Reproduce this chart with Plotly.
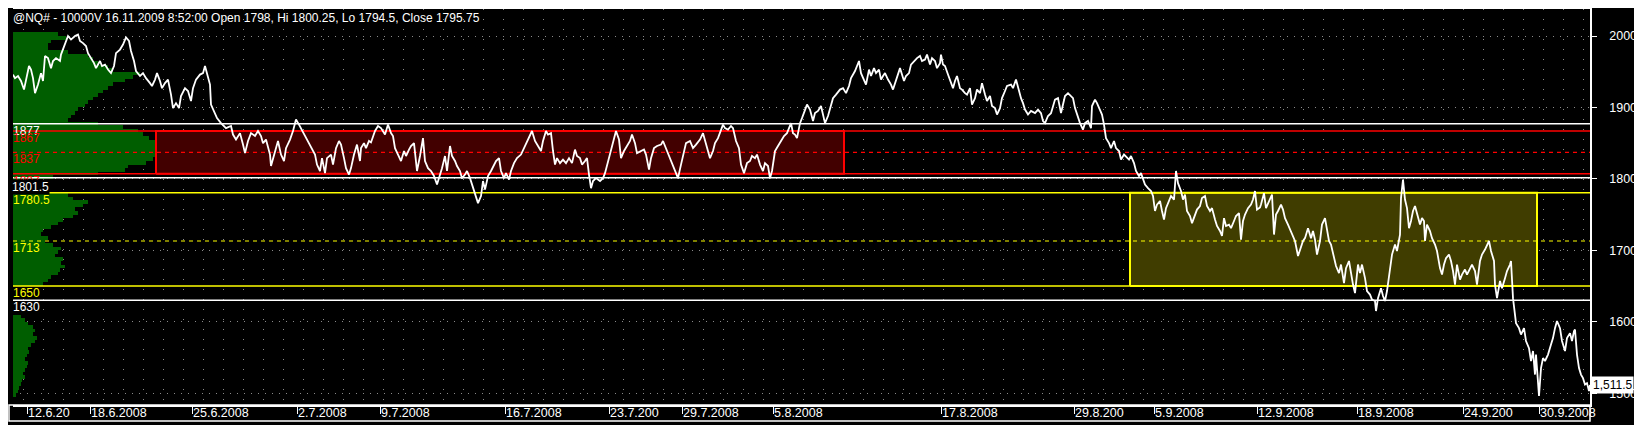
import plotly.graph_objects as go

# ---------------- data ----------------
title_text = "@NQ# - 10000V 16.11.2009 8:52:00 Open 1798, Hi 1800.25, Lo 1794.5, Close 1795.75"

# price trace: bar index (10000-volume bars) and price
bar_idx = [
    0, 2, 5, 8, 11, 13, 16, 18, 20, 22, 25, 28, 30, 32, 35, 38, 40, 43, 47, 48,
    50, 52, 55, 58, 62, 65, 67, 70, 73, 75, 78, 81, 83, 87, 89, 92, 95, 98, 101, 103,
    107, 110, 113, 116, 118, 121, 123, 127, 130, 133, 137, 139, 142, 144, 147, 149, 152, 155, 158, 160,
    163, 166, 168, 172, 175, 178, 180, 183, 187, 190, 192, 194, 197, 198, 201, 204, 208, 213, 218, 220,
    223, 227, 230, 232, 235, 238, 242, 245, 248, 250, 253, 257, 258, 262, 265,
    268, 271, 273, 277, 280, 283, 286, 288, 291, 294, 297, 299, 302, 304, 307, 309, 312, 314, 318, 320,
    323, 326, 328, 331, 333, 336, 338, 341, 344, 347, 348, 351, 353, 356, 358, 362, 365, 368, 372, 375,
    378, 380, 382, 385, 388, 391, 393, 396, 398, 401, 402, 404, 407, 410, 412, 415, 418, 421, 424, 427,
    429, 432, 434, 437, 439, 442, 444, 447, 449, 452, 454, 457, 460, 462, 465, 468, 470, 472, 475, 478,
    481, 483, 486, 488, 491, 493, 496, 498, 501, 504, 508, 511, 513, 517, 519, 522, 524, 528, 530, 533,
    535, 538, 540, 542, 544, 547, 550, 553, 556, 559, 562, 564, 567, 569, 572, 574, 576, 578, 580, 583,
    587, 590, 592, 595, 598, 600, 603, 606, 608, 611, 614, 617, 619, 622, 624, 628, 631, 633, 636, 638,
    641, 644, 648, 650, 653, 657, 660, 663, 665, 668, 670, 673, 677, 680, 683, 687, 690, 693, 697, 700,
    702, 705, 708, 710, 712, 715, 718, 720, 723, 726, 728, 731, 734, 737, 739, 742, 744, 747, 750, 752,
    755, 757, 759, 762, 765, 768, 771, 774, 778, 780, 782, 784, 787, 789, 792, 794, 797, 800, 802, 805,
    808, 810, 812, 815, 818, 820, 823, 827, 830, 833, 836, 838, 842, 844, 846, 848, 851, 853, 856, 858,
    861, 863, 866, 868, 870, 872, 875, 878, 880, 882, 885, 887, 889, 891, 893, 896, 898, 901, 904, 907,
    909, 912, 914, 917, 919, 922, 924, 927, 928, 930, 932, 935, 938, 940, 942, 944, 947, 949, 952, 954,
    957, 959, 962, 964, 967, 969, 972, 974, 977, 979, 982, 984, 987, 989, 992, 994, 998, 1000, 1003, 1005,
    1008, 1010, 1012, 1015, 1018, 1022, 1025, 1028, 1030, 1032, 1035, 1038, 1040, 1042, 1045, 1048, 1050, 1052, 1055, 1058,
    1060, 1062, 1064, 1067, 1070, 1072, 1075,
    1078, 1079, 1082, 1084, 1087, 1089, 1091, 1093, 1096, 1098, 1101, 1103, 1106, 1108, 1111, 1113, 1116, 1118, 1121, 1123,
    1126, 1128, 1130, 1132, 1135, 1138, 1140, 1142, 1144, 1147, 1149, 1151, 1153, 1156, 1158, 1161, 1163, 1165, 1168, 1170,
    1172, 1174, 1177, 1179, 1182, 1184, 1187, 1189, 1192, 1194, 1197, 1199, 1202, 1204, 1207, 1209, 1211, 1213, 1216, 1218,
    1221, 1223, 1226, 1228, 1230, 1232, 1235, 1238, 1240, 1242, 1244, 1247, 1248, 1251, 1253, 1255, 1258, 1259, 1261, 1263,
    1265, 1268, 1270, 1272, 1275, 1278, 1280, 1282, 1285, 1288, 1290, 1292, 1295, 1298, 1300, 1302, 1304, 1307, 1309, 1312,
    1314, 1316, 1318, 1321, 1323, 1326, 1328, 1331, 1333, 1336, 1338, 1340, 1342, 1344,
    1345, 1347, 1349, 1352, 1354, 1357, 1359, 1362, 1363, 1365, 1368, 1370, 1372, 1374, 1377, 1379, 1382, 1384, 1387, 1388,
    1390, 1392, 1394, 1396, 1398, 1400, 1402, 1404, 1407, 1409, 1411, 1412, 1414, 1417, 1419, 1422, 1424, 1427, 1429, 1431,
    1433, 1436, 1438, 1440, 1442, 1444, 1447, 1449, 1452, 1454, 1457, 1459, 1462, 1464, 1467, 1469, 1472, 1474, 1476, 1478,
    1481, 1482, 1484, 1487, 1489, 1492, 1494, 1497, 1498, 1500, 1502, 1503, 1506, 1508, 1511, 1513, 1516, 1518, 1520, 1522,
    1523, 1526, 1528, 1530, 1532, 1535, 1538, 1540, 1542, 1544, 1547, 1549, 1552, 1554, 1557, 1559, 1561, 1562, 1564, 1566,
    1568, 1570, 1572, 1574, 1576, 1577,
]
close = [
    1946, 1941, 1944, 1937, 1925, 1939, 1958, 1953, 1941, 1920, 1932, 1948, 1937, 1972, 1969, 1955, 1965, 1969, 1965, 1974,
    1981, 1988, 2000, 1995, 2000, 2002, 1993, 1990, 1986, 1976, 1969, 1962, 1955, 1965, 1958, 1960, 1953, 1948, 1958, 1976,
    1981, 1988, 1998, 1993, 1979, 1965, 1951, 1944, 1948, 1941, 1934, 1930, 1939, 1948, 1937, 1927, 1934, 1939, 1918, 1899,
    1906, 1899, 1916, 1927, 1923, 1909, 1927, 1939, 1946, 1948, 1958, 1946, 1932, 1904, 1895, 1885, 1878, 1871, 1874, 1862,
    1855, 1864, 1848, 1836, 1853, 1864, 1860, 1867, 1860, 1850, 1855, 1834, 1818, 1839, 1853,
    1834, 1825, 1843, 1855, 1867, 1883, 1876, 1871, 1862, 1855, 1848, 1843, 1834, 1820, 1811, 1829, 1808, 1829, 1834, 1820,
    1843, 1853, 1848, 1829, 1815, 1806, 1815, 1834, 1848, 1825, 1843, 1850, 1843, 1853, 1851, 1867, 1874, 1871, 1862, 1876,
    1864, 1860, 1843, 1834, 1825, 1839, 1832, 1841, 1846, 1850, 1839, 1811, 1832, 1857, 1825, 1815, 1811, 1804, 1792, 1804,
    1815, 1832, 1811, 1846, 1832, 1825, 1818, 1811, 1801, 1806, 1811, 1801, 1787, 1780, 1766, 1776, 1797, 1785, 1804, 1811,
    1820, 1825, 1829, 1811, 1801, 1808, 1799, 1811, 1822, 1829, 1834, 1843, 1848, 1862, 1867, 1853, 1848, 1839, 1853, 1867,
    1862, 1864, 1839, 1820, 1829, 1822, 1827, 1822, 1829, 1822, 1841, 1832, 1829, 1820, 1825, 1829, 1806, 1787, 1797, 1801,
    1797, 1801, 1808, 1825, 1839, 1850, 1867, 1855, 1829, 1839, 1846, 1853, 1862, 1850, 1836, 1839, 1841, 1834, 1813, 1829,
    1843, 1846, 1848, 1853, 1843, 1829, 1818, 1808, 1801, 1820, 1834, 1850, 1853, 1843, 1848, 1855, 1864, 1850, 1829, 1839,
    1850, 1857, 1867, 1876, 1871, 1869, 1874, 1871, 1853, 1843, 1820, 1808, 1822, 1825, 1832, 1829, 1834, 1820, 1811, 1822,
    1818, 1801, 1811, 1839, 1846, 1853, 1860, 1864, 1878, 1864, 1862, 1857, 1878, 1885, 1895, 1904, 1897, 1881, 1892, 1895,
    1902, 1890, 1878, 1888, 1904, 1913, 1918, 1925, 1927, 1920, 1930, 1941, 1951, 1958, 1965, 1948, 1937, 1932, 1953, 1944,
    1955, 1948, 1953, 1939, 1944, 1948, 1939, 1932, 1925, 1934, 1946, 1955, 1946, 1937, 1944, 1948, 1960, 1965, 1969, 1972,
    1965, 1967, 1974, 1960, 1969, 1965, 1955, 1962, 1974, 1960, 1958, 1946, 1934, 1927, 1937, 1944, 1927, 1925, 1920, 1918,
    1927, 1904, 1913, 1925, 1920, 1934, 1918, 1909, 1916, 1902, 1899, 1890, 1899, 1913, 1923, 1930, 1932, 1927, 1939, 1927,
    1913, 1906, 1897, 1890, 1895, 1892, 1897, 1892, 1881, 1878, 1888, 1892, 1902, 1911, 1913, 1892, 1904, 1916, 1920, 1916,
    1913, 1899, 1890, 1878, 1869, 1878, 1881,
    1871, 1902, 1911, 1906, 1895, 1890, 1876, 1857, 1850, 1843, 1853, 1843, 1839, 1827, 1834, 1831, 1827, 1832, 1822, 1811,
    1804, 1808, 1801, 1792, 1787, 1783, 1776, 1755, 1764, 1769, 1755, 1743, 1759, 1769, 1776, 1771, 1811, 1794, 1783, 1771,
    1778, 1755, 1748, 1738, 1750, 1757, 1762, 1773, 1776, 1762, 1755, 1759, 1743, 1734, 1727, 1720, 1745, 1734, 1736, 1731,
    1741, 1748, 1752, 1715, 1741, 1750, 1759, 1764, 1771, 1783, 1757, 1760, 1764, 1780, 1759, 1766, 1776, 1778, 1722, 1750,
    1755, 1764, 1757, 1745, 1736, 1727, 1720, 1713, 1692, 1703, 1713, 1717, 1731, 1717, 1727, 1715, 1694, 1713, 1736, 1745,
    1729, 1713, 1708, 1692, 1678, 1668, 1680, 1654, 1675, 1685, 1666, 1652, 1640, 1668,
    1680, 1668, 1680, 1661, 1643, 1638, 1631, 1629, 1615, 1633, 1647, 1636, 1629, 1643, 1671, 1694, 1708, 1699, 1722, 1773,
    1799, 1771, 1759, 1731, 1741, 1755, 1762, 1750, 1736, 1745, 1741, 1713, 1736, 1727, 1717, 1708, 1699, 1675, 1666, 1680,
    1689, 1694, 1685, 1671, 1652, 1680, 1659, 1666, 1673, 1666, 1675, 1680, 1671, 1652, 1685, 1694, 1701, 1708, 1713, 1699,
    1685, 1652, 1633, 1657, 1647, 1661, 1671, 1680, 1685, 1633, 1610, 1598, 1591, 1582, 1591, 1573, 1563, 1545, 1559, 1526,
    1554, 1496, 1535, 1549, 1545, 1554, 1568, 1577, 1591, 1601, 1591, 1573, 1559, 1577, 1584, 1573, 1587, 1589, 1554, 1535,
    1526, 1521, 1512, 1514, 1503, 1511.5,
]

# volume-at-price profile (left side)
prof_price = [
    2002.5, 1997.5, 1992.5, 1987.5, 1982.5, 1977.5, 1972.5, 1967.5, 1962.5, 1957.5,
    1952.5, 1947.5, 1942.5, 1937.5, 1932.5, 1927.5, 1922.5, 1917.5, 1912.5, 1907.5,
    1902.5, 1897.5, 1892.5, 1887.5, 1882.5, 1877.5, 1872.5, 1867.5, 1862.5, 1857.5,
    1852.5, 1847.5, 1842.5, 1837.5, 1832.5, 1827.5, 1822.5, 1817.5, 1812.5, 1807.5,
    1802.5, 1797.5, 1792.5, 1787.5, 1782.5, 1777.5, 1772.5, 1767.5, 1762.5, 1757.5,
    1752.5, 1747.5, 1742.5, 1737.5, 1732.5, 1727.5, 1722.5, 1717.5, 1712.5, 1707.5,
    1702.5, 1697.5, 1692.5, 1687.5, 1682.5, 1677.5, 1672.5, 1667.5, 1662.5, 1657.5,
    1652.5, 1607.5, 1602.5, 1597.5, 1592.5, 1587.5, 1582.5, 1577.5, 1572.5, 1567.5,
    1562.5, 1557.5, 1552.5, 1547.5, 1542.5, 1537.5, 1532.5, 1527.5, 1522.5, 1517.5,
    1512.5, 1507.5, 1502.5, 1497.5,
]
prof_vol = [
    45, 53, 38, 35, 35, 55, 75, 80, 85, 95,
    100, 127, 120, 112, 100, 95, 90, 85, 80, 75,
    72, 65, 62, 58, 55, 85, 110, 125, 130, 136,
    142, 143, 143, 143, 142, 140, 133, 115, 112, 85,
    40, 8, 5, 10, 30, 55, 60, 75, 70, 62,
    65, 60, 50, 45, 38, 30, 28, 35, 32, 40,
    48, 45, 42, 50, 48, 52, 47, 45, 38, 35,
    30, 8, 12, 15, 20, 22, 20, 24, 22, 18,
    15, 16, 14, 12, 15, 14, 12, 10, 12, 9,
    8, 6, 5, 3,
]

date_ticks = [14, 77, 179, 284, 367, 492, 596, 669, 760, 928, 1061, 1141, 1244, 1344, 1450, 1526]
date_labels = ["12.6.20", "18.6.2008", "25.6.2008", "2.7.2008", "9.7.2008", "16.7.2008",
               "23.7.200", "29.7.2008", "5.8.2008", "17.8.2008", "29.8.200", "5.9.2008",
               "12.9.2008", "18.9.2008", "24.9.200", "30.9.2008"]

price_ticks = [1500, 1600, 1700, 1800, 1900, 2000]

levels = [1877, 1867, 1837, 1807, 1801.5, 1780.5, 1713, 1650, 1630]
level_text = ["1877", "1867", "1837", "1807", "1801.5", "1780.5", "1713", "1650", "1630"]

# trading ranges: (start bar, end bar, low, high)
zone_red = (143, 831, 1807, 1867)
zone_yellow = (1117, 1524, 1650, 1780.5)

# ---------------- styles ----------------
WHITE, RED, YELLOW = "#ffffff", "#ff0000", "#ffff00"
level_color = [WHITE, RED, RED, RED, WHITE, YELLOW, YELLOW, YELLOW, WHITE]
level_dash = ["solid", "solid", "4px,4px", "solid", "solid", "solid", "4px,4px", "solid", "solid"]
GREEN = "#005e00"
GRID = "#8a8a8a"
X_MAX = 1577
Y_RANGE = [1483.4, 2037.8]
FONT = "Liberation Sans, Arial, sans-serif"

fig = go.Figure()

# volume profile on the base x axis (drawn under everything else)
fig.add_trace(go.Bar(
    y=prof_price, x=prof_vol, orientation="h", width=5,
    marker=dict(color=GREEN, line=dict(width=0)),
    xaxis="x", yaxis="y", hoverinfo="skip", showlegend=False,
))

# zones
for (x0, x1, lo, hi), fillc, linec in [(zone_red, "#420000", RED), (zone_yellow, "#403d00", YELLOW)]:
    fig.add_trace(go.Scatter(
        x=[x0, x1, x1, x0, x0], y=[lo, lo, hi, hi, lo], mode="lines",
        fill="toself", fillcolor=fillc, line=dict(color=linec, width=2),
        xaxis="x2", yaxis="y", hoverinfo="skip", showlegend=False,
    ))

# level lines
for lvl, c, d in zip(levels, level_color, level_dash):
    fig.add_trace(go.Scatter(
        x=[0, X_MAX], y=[lvl, lvl], mode="lines",
        line=dict(color=c, width=1.5 if d == "solid" else 1.2, dash=d),
        xaxis="x2", yaxis="y", hoverinfo="skip", showlegend=False,
    ))

# price
fig.add_trace(go.Scatter(
    x=bar_idx, y=close, mode="lines", line=dict(color=WHITE, width=1.8),
    xaxis="x2", yaxis="y", showlegend=False,
))

annotations = []
annotations.append(dict(
    text=title_text, x=0, xref="paper", y=1, yref="paper", xanchor="left", yanchor="top",
    xshift=-2, yshift=0, showarrow=False, font=dict(color=WHITE, size=12, family=FONT),
))
for lvl, t, c in zip(levels, level_text, level_color):
    a = dict(text=t, x=0, xref="paper", y=lvl, yref="y", xanchor="left", yanchor="top",
             xshift=-2, yshift=2, showarrow=False, font=dict(color=c, size=12, family=FONT))
    if t == "1801.5":
        a.update(bgcolor="#000000", borderpad=0, yshift=-1)
    annotations.append(a)
for tv, tl in zip(date_ticks, date_labels):
    annotations.append(dict(
        text=tl, x=tv, xref="x2", y=0, yref="paper", xanchor="left", yanchor="top",
        xshift=-1, yshift=1, showarrow=False, font=dict(color=WHITE, size=12.5, family=FONT),
    ))
annotations.append(dict(
    text=f"{close[-1]:,.1f}", x=1, xref="paper", y=close[-1], yref="y",
    xanchor="left", yanchor="middle", xshift=1, showarrow=False, bgcolor=WHITE,
    borderpad=1, font=dict(color="#000000", size=12, family=FONT),
))

strip_bottom = -16 / 396
fig.update_layout(
    width=1642, height=425,
    margin=dict(l=5, r=60, t=1, b=28, autoexpand=False),
    paper_bgcolor="#000000", plot_bgcolor="#000000",
    showlegend=False, bargap=0,
    xaxis=dict(range=[0, X_MAX], showgrid=True, dtick=20, tick0=10, gridcolor=GRID,
               griddash="1px,9px", gridwidth=1, showticklabels=False, ticks="",
               zeroline=False, showline=False, fixedrange=True),
    xaxis2=dict(overlaying="x", range=[0, X_MAX], tickvals=date_ticks, ticks="outside",
                ticklen=7, tickcolor=WHITE, tickwidth=1, showticklabels=False, showgrid=False,
                zeroline=False, showline=True, linecolor=WHITE, linewidth=1.5, mirror=True,
                side="bottom", anchor="y"),
    yaxis=dict(range=Y_RANGE, side="right", tickvals=price_ticks, ticks="outside", ticklen=5,
               tickcolor=WHITE, showgrid=True, gridcolor=GRID, griddash="1px,6px", gridwidth=1,
               showline=True, linecolor=WHITE, linewidth=1.5, zeroline=False,
               tickfont=dict(color=WHITE, size=12.5, family=FONT), ticklabelstandoff=10,
               automargin=False),
    annotations=annotations,
    shapes=[dict(type="rect", xref="paper", yref="paper", x0=-4 / 1577, x1=1,
                 y0=strip_bottom, y1=0, line=dict(color=WHITE, width=1.5), fillcolor="rgba(0,0,0,0)",
                 layer="above")],
)

fig.write_html("out.html")
